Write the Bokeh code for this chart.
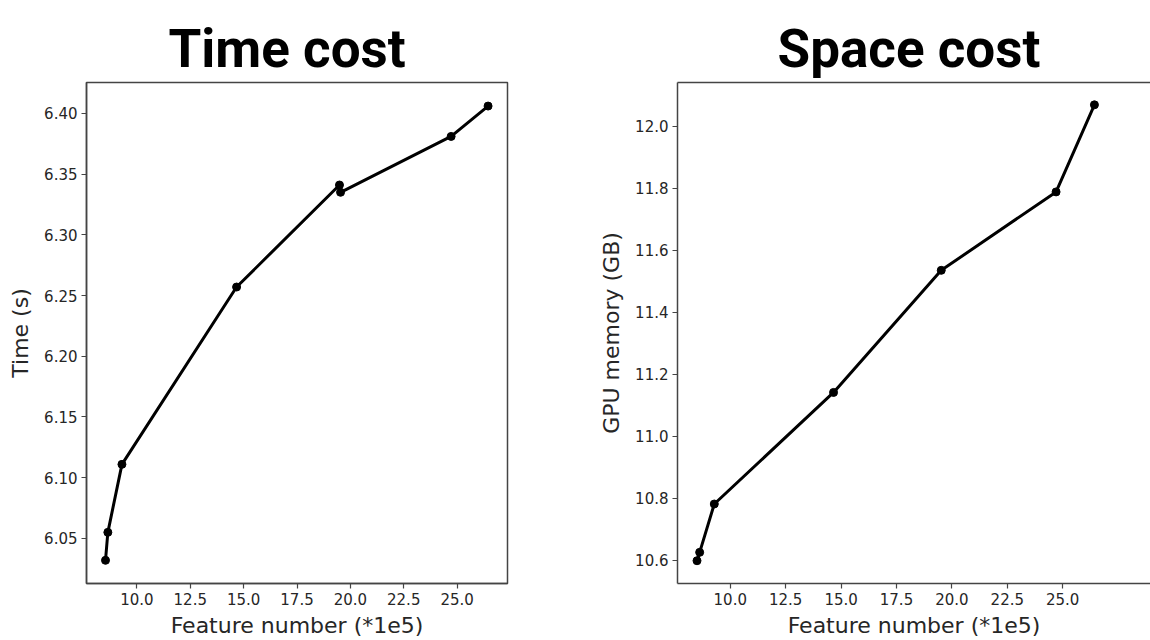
from bokeh.plotting import figure
from bokeh.layouts import row
from bokeh.models import FixedTicker, PrintfTickFormatter, LinearAxis, Range1d
from bokeh.embed import file_html
from bokeh.resources import INLINE

# ---- data ----
feat_time = [8.53, 8.64, 9.30, 14.67, 19.49, 19.54, 24.72, 26.45]
time_s = [6.032, 6.055, 6.111, 6.257, 6.341, 6.335, 6.381, 6.406]

feat_mem = [8.50, 8.62, 9.28, 14.66, 19.52, 24.70, 26.43]
mem_gb = [10.598, 10.625, 10.781, 11.141, 11.535, 11.788, 12.069]

x_ticks = [10.0, 12.5, 15.0, 17.5, 20.0, 22.5, 25.0]
time_ticks = [6.05, 6.10, 6.15, 6.20, 6.25, 6.30, 6.35, 6.40]
mem_ticks = [10.6, 10.8, 11.0, 11.2, 11.4, 11.6, 11.8, 12.0]

titles = ["Time cost", "Space cost"]
x_label = "Feature number (*1e5)"
y_labels = ["Time (s)", "GPU memory (GB)"]

AX = "#444444"
TXT = "#262626"


def style(p, xlab, ylab, yticks, yfmt, title_offset):
    p.grid.visible = False
    p.toolbar_location = None
    p.background_fill_color = "white"
    p.border_fill_color = "white"
    p.title.align = "left"
    p.title.offset = title_offset
    p.title.text_font = "Roboto"
    p.title.text_font_style = "bold"
    p.title.text_font_size = "53px"
    p.title.text_color = "black"
    p.title.standoff = 6
    for ax in (p.xaxis[0], p.yaxis[0]):
        ax.axis_line_color = AX
        ax.axis_line_width = 1.5
        ax.major_tick_line_color = AX
        ax.major_tick_line_width = 1.2
        ax.major_tick_in = 0
        ax.major_tick_out = 5
        ax.minor_tick_line_color = None
        ax.major_label_text_font = "DejaVu Sans"
        ax.major_label_text_font_size = "15px"
        ax.major_label_text_color = TXT
        ax.axis_label_text_font = "DejaVu Sans"
        ax.axis_label_text_font_size = "22px"
        ax.axis_label_text_font_style = "normal"
        ax.axis_label_text_color = TXT
    p.xaxis[0].ticker = FixedTicker(ticks=x_ticks)
    p.xaxis[0].formatter = PrintfTickFormatter(format="%.1f")
    p.xaxis[0].axis_label = xlab
    p.xaxis[0].axis_label_standoff = 5
    p.xaxis[0].major_label_standoff = 4
    p.yaxis[0].ticker = FixedTicker(ticks=yticks)
    p.yaxis[0].formatter = PrintfTickFormatter(format=yfmt)
    p.yaxis[0].axis_label = ylab
    p.yaxis[0].axis_label_standoff = 8
    p.yaxis[0].major_label_standoff = 4


p1 = figure(width=590, height=640, output_backend="svg", toolbar_location=None,
            x_range=Range1d(7.64, 27.36), y_range=Range1d(6.0129, 6.4254),
            min_border_left=86, min_border_right=83, min_border_top=80,
            min_border_bottom=57, title=titles[0])
style(p1, x_label, y_labels[0], time_ticks, "%.2f", 82)
p1.outline_line_color = AX
p1.outline_line_width = 1.5
p1.line(feat_time, time_s, line_color="black", line_width=3)
p1.scatter(feat_time, time_s, size=8, fill_color="black", line_color="black")

p2 = figure(width=560, height=640, output_backend="svg", toolbar_location=None,
            x_range=Range1d(7.62, 28.96), y_range=Range1d(10.5245, 12.141),
            min_border_left=87, min_border_right=0, min_border_top=82,
            min_border_bottom=56, title=titles[1])
style(p2, x_label, y_labels[1], mem_ticks, "%.1f", 100)
p2.outline_line_color = None
top = LinearAxis(ticker=FixedTicker(ticks=[]), axis_line_color=AX, axis_line_width=1.5,
                 major_tick_line_color=None, minor_tick_line_color=None,
                 major_label_text_font_size="0px")
p2.add_layout(top, "above")
p2.line(feat_mem, mem_gb, line_color="black", line_width=3)
p2.scatter(feat_mem, mem_gb, size=8, fill_color="black", line_color="black")

layout = row(p1, p2)
open("out.html", "w").write(file_html(layout, INLINE))
